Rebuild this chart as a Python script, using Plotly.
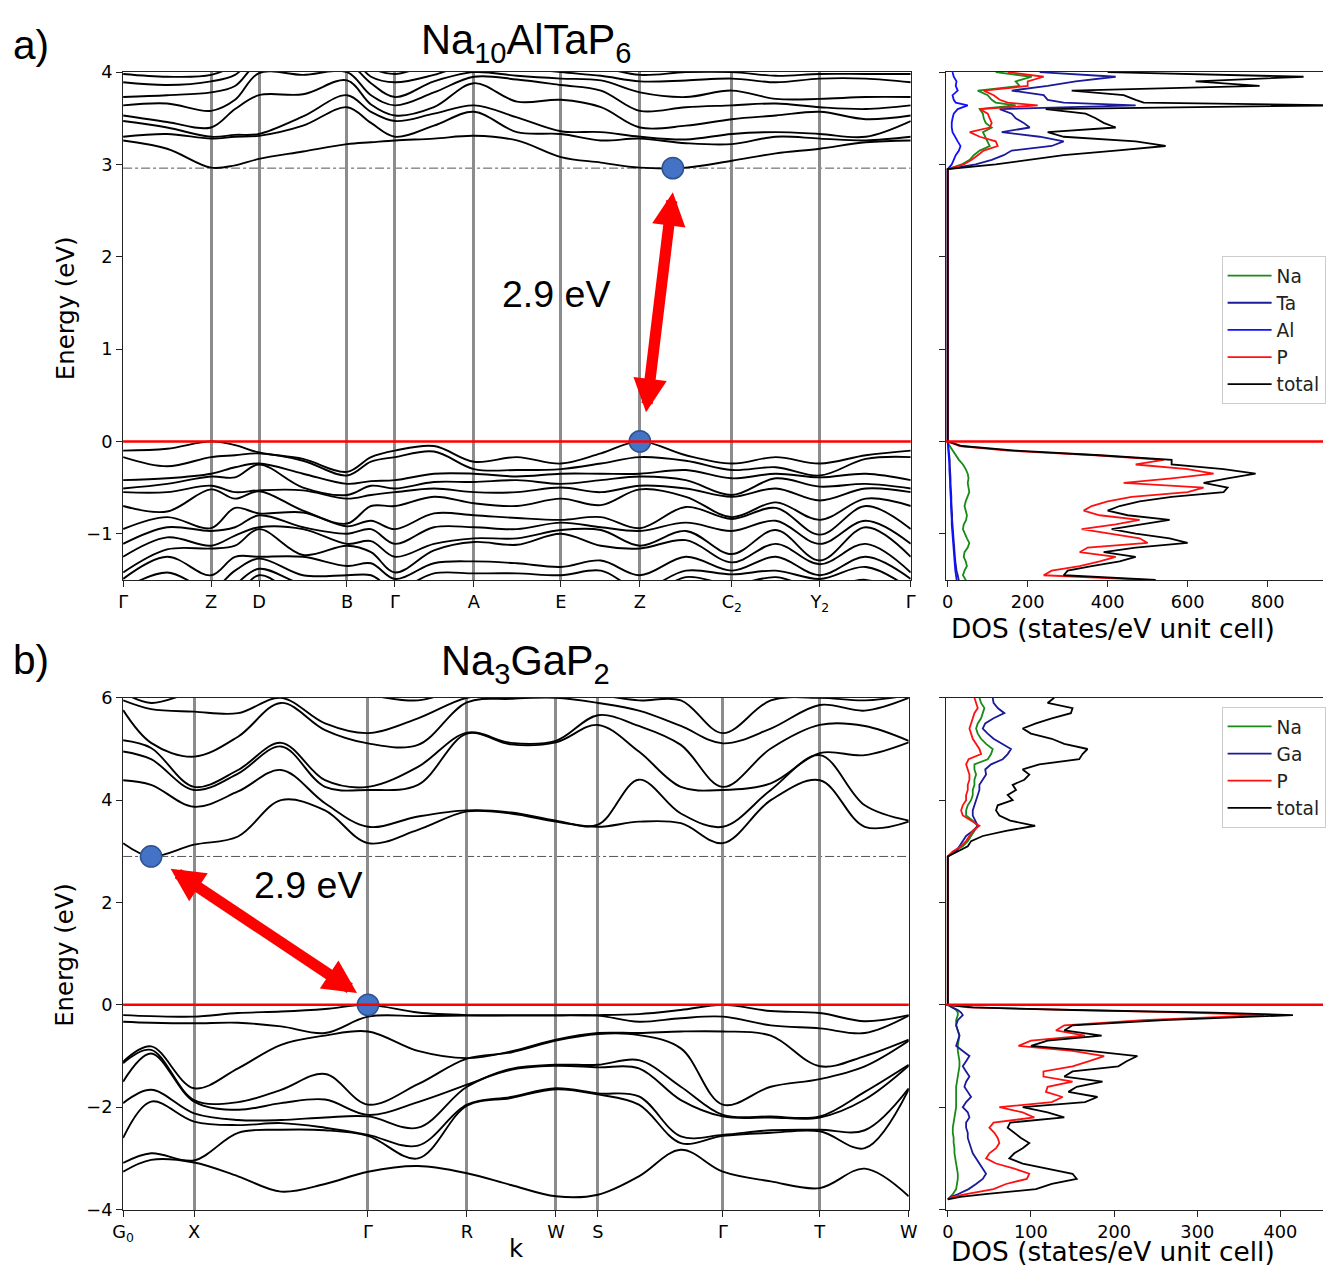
import plotly.graph_objects as go

# ---------------- Na10AlTaP6 : band structure ----------------
k_nodes_a = [0, 88, 136, 224, 272, 351, 438, 517, 609, 697, 788]
k_labels_a = ["Γ", "Z", "D", "B", "Γ", "A", "E", "Z", "C<sub>2</sub>", "Y<sub>2</sub>", "Γ"]
k_a = [0, 44, 88, 112, 136, 180, 224, 248, 272, 311, 351, 394, 438, 478, 517, 563, 609, 653, 697, 743, 788]

# conduction bands, one row per k sample (eV)
cond_a = [
    [3.26, 3.30, 3.47, 3.53, 3.64, 3.73, 3.89, 3.98],
    [3.17, 3.33, 3.40, 3.46, 3.66, 3.75, 3.86, 3.95],
    [2.965, 3.28, 3.30, 3.40, 3.58, 3.78, 3.90, 3.97],
    [2.99, 3.30, 3.32, 3.60, 3.70, 3.85, 3.97, 4.08],
    [3.06, 3.31, 3.33, 3.75, 3.99, 4.10, 4.20, 4.30],
    [3.14, 3.42, 3.52, 3.76, 3.97, 4.10, 4.20, 4.30],
    [3.22, 3.62, 3.75, 3.91, 4.00, 4.10, 4.20, 4.30],
    [3.24, 3.45, 3.57, 3.65, 3.75, 3.88, 3.95, 4.05],
    [3.26, 3.30, 3.47, 3.53, 3.64, 3.73, 3.89, 3.98],
    [3.28, 3.42, 3.55, 3.62, 3.78, 3.90, 3.97, 4.10],
    [3.31, 3.57, 3.64, 3.88, 3.95, 4.00, 4.10, 4.20],
    [3.26, 3.35, 3.51, 3.68, 3.92, 3.96, 4.05, 4.15],
    [3.08, 3.33, 3.36, 3.70, 3.86, 3.93, 4.00, 4.10],
    [3.02, 3.26, 3.35, 3.62, 3.80, 3.91, 3.96, 4.05],
    [2.965, 3.28, 3.30, 3.40, 3.58, 3.78, 3.90, 3.97],
    [2.965, 3.23, 3.27, 3.42, 3.62, 3.73, 3.91, 4.00],
    [3.04, 3.22, 3.33, 3.49, 3.64, 3.80, 3.93, 4.00],
    [3.12, 3.30, 3.35, 3.53, 3.66, 3.71, 3.89, 3.96],
    [3.17, 3.28, 3.33, 3.57, 3.62, 3.71, 3.93, 3.98],
    [3.24, 3.26, 3.30, 3.49, 3.60, 3.73, 3.93, 3.98],
    [3.26, 3.30, 3.47, 3.53, 3.64, 3.73, 3.89, 3.98],
]

# valence bands, one row per k sample (eV)
val_a = [
    [-0.10, -0.17, -0.42, -0.51, -0.55, -0.70, -0.95, -1.11, -1.25, -1.42, -1.49, -1.60, -1.70, -1.80],
    [-0.08, -0.27, -0.40, -0.46, -0.55, -0.76, -0.82, -0.93, -1.04, -1.17, -1.25, -1.42, -1.55, -1.70],
    [0.00, -0.17, -0.35, -0.38, -0.48, -0.52, -0.94, -0.97, -1.13, -1.16, -1.45, -1.60, -1.70, -1.80],
    [-0.04, -0.15, -0.28, -0.39, -0.55, -0.62, -0.72, -0.93, -1.02, -1.13, -1.25, -1.40, -1.55, -1.70],
    [-0.12, -0.13, -0.24, -0.25, -0.53, -0.54, -0.78, -0.80, -0.93, -0.95, -1.25, -1.27, -1.38, -1.45],
    [-0.19, -0.21, -0.35, -0.50, -0.53, -0.75, -0.77, -0.93, -0.95, -1.23, -1.25, -1.45, -1.55, -1.70],
    [-0.33, -0.37, -0.46, -0.58, -0.62, -0.89, -0.92, -1.00, -1.11, -1.13, -1.35, -1.45, -1.60, -1.75],
    [-0.17, -0.22, -0.43, -0.48, -0.58, -0.70, -0.86, -0.95, -1.08, -1.20, -1.32, -1.45, -1.60, -1.75],
    [-0.10, -0.17, -0.42, -0.51, -0.55, -0.70, -0.95, -1.11, -1.25, -1.42, -1.49, -1.60, -1.70, -1.80],
    [-0.05, -0.11, -0.35, -0.44, -0.51, -0.60, -0.78, -0.93, -1.11, -1.18, -1.32, -1.43, -1.55, -1.70],
    [-0.22, -0.30, -0.35, -0.44, -0.55, -0.67, -0.80, -0.93, -1.05, -1.09, -1.30, -1.43, -1.55, -1.70],
    [-0.17, -0.31, -0.38, -0.42, -0.55, -0.70, -0.83, -0.95, -1.05, -1.12, -1.32, -1.43, -1.55, -1.70],
    [-0.24, -0.30, -0.35, -0.46, -0.50, -0.62, -0.85, -0.88, -0.96, -1.00, -1.36, -1.45, -1.55, -1.70],
    [-0.13, -0.24, -0.35, -0.42, -0.55, -0.69, -0.82, -0.93, -0.96, -1.13, -1.29, -1.40, -1.52, -1.70],
    [0.00, -0.17, -0.35, -0.38, -0.48, -0.52, -0.94, -0.97, -1.13, -1.16, -1.45, -1.60, -1.70, -1.80],
    [-0.15, -0.21, -0.31, -0.42, -0.51, -0.60, -0.71, -0.88, -0.97, -1.07, -1.25, -1.40, -1.47, -1.60],
    [-0.24, -0.31, -0.40, -0.58, -0.60, -0.82, -0.84, -0.97, -1.22, -1.31, -1.40, -1.44, -1.55, -1.70],
    [-0.17, -0.28, -0.35, -0.40, -0.51, -0.66, -0.72, -0.86, -0.96, -1.11, -1.25, -1.40, -1.47, -1.60],
    [-0.24, -0.37, -0.39, -0.49, -0.64, -0.85, -1.01, -1.11, -1.29, -1.33, -1.45, -1.49, -1.60, -1.75],
    [-0.15, -0.19, -0.35, -0.46, -0.51, -0.62, -0.70, -0.86, -0.93, -1.11, -1.25, -1.36, -1.50, -1.65],
    [-0.10, -0.17, -0.42, -0.51, -0.55, -0.70, -0.95, -1.11, -1.25, -1.42, -1.49, -1.60, -1.70, -1.80],
]

vbm_a = (517, 0.0)     # (k, E) valence band maximum
cbm_a = (550, 2.96)    # (k, E) conduction band minimum
gap_label_a = "2.9 eV"

# ---------------- Na10AlTaP6 : projected DOS ----------------
dos_a_valE = [0.0, -0.05, -0.10, -0.15, -0.20, -0.25, -0.30, -0.35, -0.40, -0.45, -0.50, -0.55, -0.60, -0.65,
              -0.70, -0.75, -0.80, -0.85, -0.90, -0.95, -1.00, -1.05, -1.10, -1.15, -1.20, -1.25, -1.30, -1.35,
              -1.40, -1.45, -1.50, -1.55]
dos_a_val_total = [0, 35, 170, 380, 560, 560, 690, 770, 700, 640, 700, 690, 560, 480, 430, 400, 450, 555, 480, 410,
                   470, 555, 600, 470, 390, 470, 430, 360, 300, 290, 520, 450]
dos_a_val_P = [0, 30, 150, 370, 540, 470, 600, 665, 560, 440, 640, 600, 460, 400, 360, 340, 380, 480, 420, 335,
               410, 480, 500, 350, 330, 420, 380, 330, 260, 240, 500, 420]
dos_a_val_Na = [0, 5, 12, 20, 28, 38, 45, 50, 52, 50, 52, 54, 50, 45, 42, 45, 48, 46, 40, 38, 42, 48, 54, 50, 42,
                40, 45, 48, 42, 38, 45, 45]
dos_a_val_Ta = [0, 2, 3, 4, 5, 5, 6, 6, 7, 7, 8, 8, 9, 9, 10, 10, 11, 11, 12, 12, 13, 14, 15, 16, 17, 18, 19, 20,
                22, 25, 28, 30]
dos_a_val_Al = [0, 1, 2, 3, 3, 4, 4, 5, 5, 6, 6, 7, 7, 8, 8, 9, 9, 10, 10, 11, 11, 12, 13, 14, 15, 16, 17, 18, 19,
                20, 22, 24]

dos_a_condE = [2.95, 3.00, 3.05, 3.10, 3.15, 3.20, 3.25, 3.30, 3.35, 3.40, 3.45, 3.50, 3.55, 3.60, 3.64, 3.67,
               3.70, 3.75, 3.80, 3.85, 3.90, 3.95, 4.00]
dos_a_cond_total = [0, 120, 210, 290, 420, 545, 470, 290, 250, 420, 390, 370, 345, 245, 965, 490, 470, 440, 310,
                    780, 620, 890, 400]
dos_a_cond_Ta = [0, 70, 110, 140, 160, 260, 290, 230, 135, 205, 190, 170, 160, 130, 470, 290, 250, 240, 160, 250,
                 320, 420, 230]
dos_a_cond_Na = [0, 35, 55, 65, 80, 105, 100, 95, 88, 110, 95, 90, 88, 80, 170, 120, 110, 100, 75, 180, 170, 210, 120]
dos_a_cond_P = [0, 40, 60, 75, 90, 125, 120, 80, 55, 105, 110, 105, 100, 80, 225, 150, 130, 115, 90, 200, 200, 240, 150]
dos_a_cond_Al = [0, 10, 15, 20, 28, 32, 25, 18, 12, 10, 10, 12, 15, 25, 50, 20, 15, 12, 25, 20, 22, 15, 12]

# ---------------- Na3GaP2 : band structure ----------------
k_nodes_b = [0, 71, 245, 344, 433, 475, 600, 697, 786]
k_labels_b = ["G<sub>0</sub>", "X", "Γ", "R", "W", "S", "Γ", "T", "W"]
k_b = [0, 28, 71, 115, 158, 202, 245, 295, 344, 388, 433, 475, 516, 558, 600, 648, 697, 742, 786]

cond_b = [
    [3.16, 4.39, 4.95, 5.17, 5.76, 5.95, 6.10, 6.30],
    [2.90, 4.30, 4.80, 5.02, 5.12, 5.78, 5.90, 6.20],
    [3.13, 3.87, 4.20, 4.26, 4.85, 5.73, 6.10, 6.30],
    [3.29, 4.17, 4.52, 4.59, 5.24, 5.70, 6.10, 6.30],
    [4.00, 4.59, 5.05, 5.12, 5.90, 6.00, 6.10, 6.30],
    [3.80, 3.94, 4.26, 4.39, 5.37, 5.50, 6.10, 6.30],
    [3.16, 3.48, 4.20, 4.26, 5.11, 5.31, 6.05, 6.30],
    [3.42, 3.68, 4.30, 4.65, 5.08, 5.60, 5.95, 6.20],
    [3.78, 3.80, 5.30, 5.32, 5.91, 6.00, 6.20, 6.40],
    [3.74, 3.76, 5.09, 5.12, 5.98, 6.05, 6.20, 6.40],
    [3.58, 3.60, 5.13, 5.16, 6.00, 6.05, 6.20, 6.40],
    [3.48, 3.52, 5.47, 5.66, 5.90, 6.05, 6.20, 6.40],
    [3.58, 4.40, 4.95, 5.45, 5.75, 5.95, 6.20, 6.40],
    [3.55, 3.74, 4.26, 5.08, 5.45, 5.95, 6.20, 6.40],
    [3.16, 3.48, 4.20, 4.26, 5.11, 5.31, 6.05, 6.30],
    [4.00, 4.20, 4.33, 5.01, 5.40, 5.95, 6.20, 6.40],
    [4.39, 4.88, 4.92, 5.47, 5.86, 6.00, 6.20, 6.40],
    [3.48, 3.90, 4.88, 5.45, 5.75, 5.95, 6.20, 6.40],
    [3.58, 3.60, 5.13, 5.16, 6.00, 6.05, 6.20, 6.40],
]

val_b = [
    [-0.20, -0.33, -1.11, -1.14, -1.50, -1.92, -2.60, -3.09, -3.26],
    [-0.22, -0.35, -0.81, -0.88, -0.95, -1.66, -1.89, -2.90, -3.03],
    [-0.23, -0.36, -1.63, -1.86, -1.89, -2.12, -2.28, -3.04, -3.08],
    [-0.16, -0.35, -1.24, -1.90, -2.05, -2.25, -2.35, -2.50, -3.35],
    [-0.13, -0.42, -0.78, -1.66, -1.92, -2.25, -2.31, -2.44, -3.65],
    [-0.08, -0.55, -0.60, -1.35, -1.85, -2.20, -2.40, -2.45, -3.50],
    [0.00, -0.23, -0.52, -1.95, -2.15, -2.18, -2.54, -2.56, -3.26],
    [-0.15, -0.22, -0.90, -1.55, -1.90, -2.40, -2.75, -3.00, -3.15],
    [-0.20, -0.21, -1.04, -1.05, -1.56, -1.60, -1.95, -1.97, -3.29],
    [-0.20, -0.21, -0.91, -0.93, -1.25, -1.27, -1.80, -1.82, -3.52],
    [-0.20, -0.21, -0.68, -0.70, -1.17, -1.19, -1.63, -1.65, -3.74],
    [-0.20, -0.21, -0.55, -0.57, -1.17, -1.22, -1.73, -1.75, -3.71],
    [-0.18, -0.33, -0.55, -0.59, -1.08, -1.24, -1.79, -1.95, -3.35],
    [-0.10, -0.26, -0.52, -0.85, -1.60, -1.86, -2.57, -2.70, -2.83],
    [0.00, -0.23, -0.52, -1.95, -2.15, -2.18, -2.54, -2.56, -3.26],
    [-0.12, -0.40, -0.60, -1.60, -2.18, -2.20, -2.45, -2.50, -3.45],
    [-0.16, -0.46, -1.20, -1.45, -2.18, -2.20, -2.44, -2.47, -3.58],
    [-0.32, -0.55, -1.00, -1.20, -1.70, -1.85, -2.45, -2.80, -3.20],
    [-0.20, -0.21, -0.68, -0.70, -1.17, -1.19, -1.63, -1.65, -3.74],
]

vbm_b = (245, 0.0)
cbm_b = (28, 2.90)
gap_label_b = "2.9 eV"

# ---------------- Na3GaP2 : projected DOS ----------------
dos_b_valE = [0.0, -0.05, -0.10, -0.15, -0.20, -0.25, -0.30, -0.40, -0.50, -0.60, -0.70, -0.80, -0.90, -1.00,
              -1.10, -1.20, -1.30, -1.40, -1.50, -1.60, -1.70, -1.80, -1.90, -2.00, -2.10, -2.20, -2.30, -2.40,
              -2.50, -2.60, -2.70, -2.80, -2.90, -3.00, -3.10, -3.20, -3.30, -3.40, -3.50, -3.60, -3.70, -3.75, -3.80]
dos_b_val_total = [0, 30, 150, 320, 415, 350, 260, 150, 140, 185, 120, 100, 170, 228, 215, 205, 150, 140, 186, 155,
                   145, 180, 165, 90, 120, 140, 75, 72, 80, 88, 98, 90, 80, 74, 90, 120, 150, 155, 125, 106, 45, 15, 0]
dos_b_val_P = [0, 25, 135, 290, 380, 315, 235, 140, 130, 165, 100, 85, 150, 188, 170, 150, 115, 115, 150, 120,
               118, 138, 125, 62, 90, 104, 55, 50, 56, 60, 62, 58, 50, 46, 58, 80, 98, 95, 70, 55, 22, 6, 0]
dos_b_val_Ga = [0, 5, 12, 16, 18, 15, 12, 10, 12, 14, 12, 10, 18, 26, 22, 18, 22, 26, 22, 20, 24, 28, 22, 18, 24,
                26, 22, 22, 24, 24, 26, 28, 30, 34, 38, 42, 46, 42, 34, 25, 12, 4, 0]
dos_b_val_Na = [0, 6, 10, 12, 12, 11, 10, 10, 12, 14, 13, 12, 12, 13, 14, 14, 13, 12, 11, 10, 10, 10, 10, 10, 9, 8,
                7, 6, 6, 7, 7, 8, 8, 9, 10, 11, 12, 12, 11, 10, 6, 3, 0]

dos_b_condE = [2.9, 3.0, 3.1, 3.2, 3.3, 3.4, 3.5, 3.6, 3.7, 3.8, 3.9, 4.0, 4.1, 4.2, 4.3, 4.4, 4.5, 4.6, 4.7, 4.8,
               4.9, 5.0, 5.1, 5.2, 5.3, 5.4, 5.5, 5.6, 5.7, 5.8, 5.9, 6.0]
dos_b_cond_total = [0, 12, 24, 28, 42, 70, 105, 75, 62, 58, 60, 78, 72, 82, 78, 92, 98, 90, 110, 158, 162, 168,
                    140, 125, 100, 90, 106, 125, 148, 150, 120, 128]
dos_b_cond_Ga = [0, 10, 14, 18, 22, 30, 36, 33, 30, 30, 32, 34, 36, 38, 38, 42, 46, 45, 52, 66, 72, 76, 65, 55, 48,
                 42, 45, 55, 68, 60, 55, 54]
dos_b_cond_Na = [0, 8, 18, 24, 28, 32, 36, 30, 22, 22, 24, 28, 30, 30, 32, 32, 34, 32, 32, 48, 52, 54, 46, 40, 36,
                 34, 36, 40, 42, 44, 40, 38]
dos_b_cond_P = [0, 6, 16, 22, 26, 30, 38, 28, 18, 16, 18, 22, 22, 24, 24, 26, 26, 24, 22, 25, 40, 38, 34, 30, 28,
                26, 28, 30, 32, 36, 34, 32]

COL = {"Na": "#178a17", "Ta": "#1a1a9a", "Ga": "#1a1a9a", "Al": "#1010ff", "P": "#ff1010", "total": "#000000"}

# ---------------- page geometry ----------------
W, H = 1332, 1269
# the rendered page shows up inside a ~10 px frame and is shrunk to fit;
# layout positions below are given in final-image pixels and mapped back here
FRAME = 9.85
SX = W / (W + 2 * FRAME)
SY = H / (H + 2 * FRAME)
FS = 1 / SX          # font / marker scale


def px_x(p):
    return (p - FRAME) / SX / W


def px_y(p):
    return 1 - (p - FRAME) / SY / H


RIGHT_EDGE = FRAME + SX * W           # where the page's right edge lands in the final image
dos_a_range = [-5, -5 + (RIGHT_EDGE - 945) / 0.4]      # 0.4 px per state/eV
dos_b_range = [-2.5, -2.5 + (RIGHT_EDGE - 945) / 0.832]  # 0.832 px per state/eV

fig = go.Figure()


def add_bands(rows, k, xa, ya):
    for i in range(len(rows[0])):
        fig.add_trace(go.Scatter(
            x=k, y=[r[i] for r in rows], mode="lines",
            line=dict(color="black", width=1.9, shape="spline", smoothing=1.0),
            xaxis=xa, yaxis=ya, showlegend=False, hoverinfo="skip"))


def add_dos(name, valE, val, condE, cond, xa, ya, legend):
    E = valE[::-1] + condE
    d = val[::-1] + cond
    fig.add_trace(go.Scatter(
        x=d, y=E, mode="lines", name=name, line=dict(color=COL[name], width=1.8),
        xaxis=xa, yaxis=ya, legend=legend, hoverinfo="skip"))


add_bands(cond_a, k_a, "x", "y")
add_bands(val_a, k_a, "x", "y")
add_bands(cond_b, k_b, "x3", "y3")
add_bands(val_b, k_b, "x3", "y3")

add_dos("Na", dos_a_valE, dos_a_val_Na, dos_a_condE, dos_a_cond_Na, "x2", "y2", "legend")
add_dos("Ta", dos_a_valE, dos_a_val_Ta, dos_a_condE, dos_a_cond_Ta, "x2", "y2", "legend")
add_dos("Al", dos_a_valE, dos_a_val_Al, dos_a_condE, dos_a_cond_Al, "x2", "y2", "legend")
add_dos("P", dos_a_valE, dos_a_val_P, dos_a_condE, dos_a_cond_P, "x2", "y2", "legend")
add_dos("total", dos_a_valE, dos_a_val_total, dos_a_condE, dos_a_cond_total, "x2", "y2", "legend")

add_dos("Na", dos_b_valE, dos_b_val_Na, dos_b_condE, dos_b_cond_Na, "x4", "y4", "legend2")
add_dos("Ga", dos_b_valE, dos_b_val_Ga, dos_b_condE, dos_b_cond_Ga, "x4", "y4", "legend2")
add_dos("P", dos_b_valE, dos_b_val_P, dos_b_condE, dos_b_cond_P, "x4", "y4", "legend2")
add_dos("total", dos_b_valE, dos_b_val_total, dos_b_condE, dos_b_cond_total, "x4", "y4", "legend2")

# band edge markers
for (kk, ee), xa, ya in [(vbm_a, "x", "y"), (cbm_a, "x", "y"), (vbm_b, "x3", "y3"), (cbm_b, "x3", "y3")]:
    fig.add_trace(go.Scatter(x=[kk], y=[ee], mode="markers", xaxis=xa, yaxis=ya, showlegend=False,
                             marker=dict(size=21 * FS, color="#4472c4", line=dict(color="#2f528f", width=1.5)),
                             hoverinfo="skip"))

TICKFONT = dict(family="DejaVu Sans", size=17.5 * FS, color="black")
base = dict(showline=True, linecolor="#222", linewidth=1.2, ticks="outside", ticklen=6, tickwidth=1.2,
            tickcolor="#222", tickfont=TICKFONT, zeroline=False, showgrid=False)

dom_ya = [px_y(580), px_y(72)]
dom_yb = [px_y(1210), px_y(698)]
minus = lambda v: str(v).replace("-", "−")

LEG = dict(xanchor="left", yanchor="top", bgcolor="white", bordercolor="#cccccc", borderwidth=1,
           itemwidth=44, font=dict(family="DejaVu Sans", size=18.3 * FS, color="#222"))

fig.update_layout(
    width=W, height=H, margin=dict(l=0, r=0, t=0, b=0),
    paper_bgcolor="white", plot_bgcolor="white",
    font=dict(family="DejaVu Sans", color="black"),
    xaxis=dict(base, domain=[px_x(122), px_x(910)], range=[0, 788], tickvals=k_nodes_a, ticktext=k_labels_a,
               showgrid=True, gridcolor="#8c8c8c", gridwidth=3, mirror=True, anchor="y"),
    yaxis=dict(base, domain=dom_ya, range=[-1.5, 4], tickvals=[-1, 0, 1, 2, 3, 4],
               ticktext=[minus(v) for v in [-1, 0, 1, 2, 3, 4]], mirror=True, anchor="x"),
    xaxis2=dict(base, domain=[px_x(945), 1.0], range=dos_a_range, tickvals=[0, 200, 400, 600, 800],
                mirror=True, anchor="y2"),
    yaxis2=dict(base, domain=dom_ya, range=[-1.5, 4], tickvals=[-1, 0, 1, 2, 3, 4], showticklabels=False,
                anchor="x2"),
    xaxis3=dict(base, domain=[px_x(122), px_x(908)], range=[0, 786], tickvals=k_nodes_b, ticktext=k_labels_b,
                showgrid=True, gridcolor="#8c8c8c", gridwidth=3, mirror=True, anchor="y3"),
    yaxis3=dict(base, domain=dom_yb, range=[-4, 6], tickvals=[-4, -2, 0, 2, 4, 6],
                ticktext=[minus(v) for v in [-4, -2, 0, 2, 4, 6]], mirror=True, anchor="x3"),
    xaxis4=dict(base, domain=[px_x(945), 1.0], range=dos_b_range, tickvals=[0, 100, 200, 300, 400],
                mirror=True, anchor="y4"),
    yaxis4=dict(base, domain=dom_yb, range=[-4, 6], tickvals=[-4, -2, 0, 2, 4, 6], showticklabels=False,
                anchor="x4"),
    legend=dict(LEG, x=px_x(1221), y=px_y(256)),
    legend2=dict(LEG, x=px_x(1221), y=px_y(707)),
)

# Fermi level (red) and conduction band minimum (dash-dot)
for xa, ya in [("x", "y"), ("x2", "y2"), ("x3", "y3"), ("x4", "y4")]:
    fig.add_shape(type="line", xref=f"{xa} domain", yref=ya, x0=0, x1=1, y0=0, y1=0,
                  line=dict(color="#ff0000", width=2.5), layer="above")
fig.add_shape(type="line", xref="x", yref="y", x0=0, x1=788, y0=cbm_a[1], y1=cbm_a[1],
              line=dict(color="#555555", width=1, dash="dashdot"), layer="below")
fig.add_shape(type="line", xref="x3", yref="y3", x0=0, x1=786, y0=cbm_b[1], y1=cbm_b[1],
              line=dict(color="#555555", width=1, dash="dashdot"), layer="below")

# gap arrows
arrow = dict(text="", showarrow=True, arrowhead=2, startarrowhead=2, arrowside="end+start", arrowwidth=11 * FS,
             arrowsize=0.6, startarrowsize=0.6, arrowcolor="#ff0000", standoff=0, startstandoff=0)
fig.add_annotation(arrow, x=cbm_a[0], y=cbm_a[1] - 0.26, ax=vbm_a[0] + 6, ay=vbm_a[1] + 0.30,
                   xref="x", yref="y", axref="x", ayref="y")
fig.add_annotation(arrow, x=vbm_b[0] - 11, y=vbm_b[1] + 0.23, ax=cbm_b[0] + 18, ay=cbm_b[1] - 0.22,
                   xref="x3", yref="y3", axref="x3", ayref="y3")

TXT = "Liberation Sans"
C = dict(xanchor="center", yanchor="middle", showarrow=False)
fig.add_annotation(C, x=434, y=1.60, xref="x", yref="y", text=gap_label_a,
                   font=dict(family=TXT, size=37 * FS, color="black"))
fig.add_annotation(C, x=185, y=2.34, xref="x3", yref="y3", text=gap_label_b,
                   font=dict(family=TXT, size=37 * FS, color="black"))

# titles and panel letters
fig.add_annotation(C, x=px_x(525), y=px_y(42), xref="paper", yref="paper",
                   text="Na<sub>10</sub>AlTaP<sub>6</sub>", font=dict(family=TXT, size=41 * FS, color="black"))
fig.add_annotation(C, x=px_x(525), y=px_y(664), xref="paper", yref="paper",
                   text="Na<sub>3</sub>GaP<sub>2</sub>", font=dict(family=TXT, size=41 * FS, color="black"))
fig.add_annotation(C, x=px_x(30), y=px_y(45), xref="paper", yref="paper",
                   text="a)", font=dict(family=TXT, size=40 * FS, color="black"))
fig.add_annotation(C, x=px_x(30), y=px_y(660), xref="paper", yref="paper",
                   text="b)", font=dict(family=TXT, size=40 * FS, color="black"))

# axis titles
LAB = dict(family="DejaVu Sans", size=24 * FS, color="black")
LAB_DOS = dict(family="DejaVu Sans", size=26 * FS, color="black")
fig.add_annotation(C, x=px_x(64), y=px_y(308), xref="paper", yref="paper", textangle=-90,
                   text="Energy (eV)", font=LAB)
fig.add_annotation(C, x=px_x(64), y=px_y(955), xref="paper", yref="paper", textangle=-90,
                   text="Energy (eV)", font=LAB)
fig.add_annotation(C, x=px_x(1112), y=px_y(629), xref="paper", yref="paper",
                   text="DOS (states/eV unit cell)", font=LAB_DOS, borderpad=0)
fig.add_annotation(C, x=px_x(1112), y=px_y(1252), xref="paper", yref="paper",
                   text="DOS (states/eV unit cell)", font=LAB_DOS, borderpad=0)
fig.add_annotation(C, x=px_x(516), y=px_y(1249), xref="paper", yref="paper",
                   text="k", font=LAB, borderpad=0)

fig.write_html("out.html")
